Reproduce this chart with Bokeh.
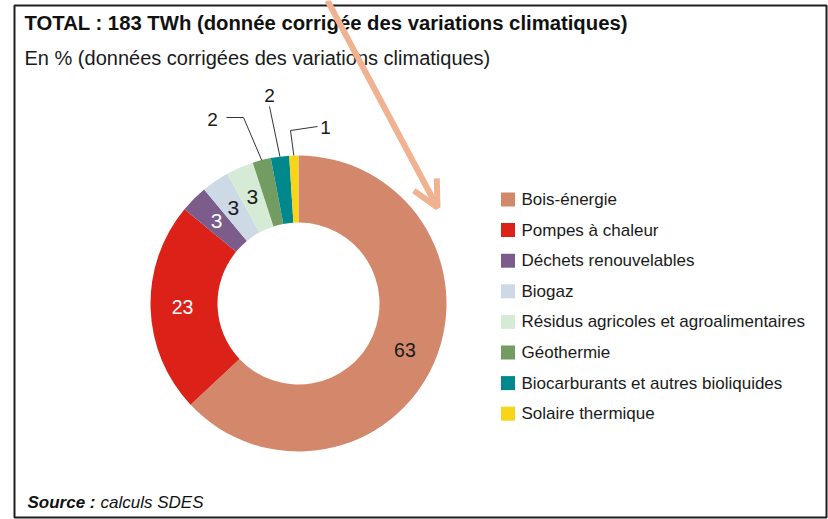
import math
from bokeh.plotting import figure
from bokeh.models import Range1d, ColumnDataSource, Arrow, OpenHead
from bokeh.core.properties import value
from bokeh.embed import file_html
from bokeh.resources import INLINE

# ---------------- data ----------------
categories = ["Bois-énergie", "Pompes à chaleur", "Déchets renouvelables", "Biogaz",
              "Résidus agricoles et agroalimentaires", "Géothermie",
              "Biocarburants et autres bioliquides", "Solaire thermique"]
shares = [63, 23, 3, 3, 3, 2, 2, 1]
colors = ["#D4886B", "#DC2119", "#7B5C8B", "#CDD9E4", "#D6EBD6", "#739C63", "#00888C", "#F8D518"]
title_text = "TOTAL : 183 TWh (donnée corrigée des variations climatiques)"
subtitle_text = "En % (données corrigées des variations climatiques)"
source_bold = "Source :"
source_rest = "calculs SDES"

FONT = "Liberation Sans"
W, H = 828, 519

def Y(py):
    # page pixel y (downwards) -> data y (upwards)
    return H - py

p = figure(width=W, height=H, output_backend="svg", toolbar_location=None,
           x_range=Range1d(0, W), y_range=Range1d(0, H),
           x_axis_location=None, y_axis_location=None, min_border=0,
           outline_line_color=None, background_fill_color="white",
           border_fill_color="white")
p.xgrid.visible = False
p.ygrid.visible = False

# frame
p.quad(left=[14], right=[826], top=[Y(5)], bottom=[Y(517)], fill_color=None,
       line_color="#1e1e1e", line_width=2)

# ---------------- donut ----------------
CX, CY = 298, Y(303)
R_IN, R_OUT = 81, 148
total = float(sum(shares))
cum = [0.0]
for s in shares:
    cum.append(cum[-1] + s)
start = [math.pi / 2 - 2 * math.pi * cum[i + 1] / total for i in range(len(shares))]
end = [math.pi / 2 - 2 * math.pi * cum[i] / total for i in range(len(shares))]
mid = [(a + b) / 2 for a, b in zip(start, end)]

src = ColumnDataSource(dict(x=[CX] * len(shares), y=[CY] * len(shares), start=start,
                            end=end, color=colors, cat=categories))
p.annular_wedge(x="x", y="y", inner_radius=R_IN, outer_radius=R_OUT,
                inner_radius_units="screen", outer_radius_units="screen",
                start_angle="start", end_angle="end", direction="anticlock",
                fill_color="color", line_color=None, source=src)

# inside labels
inside = [0, 1, 2, 3, 4]
in_colors = {0: "#1a1a1a", 1: "white", 2: "white", 3: "#1a1a1a", 4: "#1a1a1a"}
in_sizes = {0: "19.5px", 1: "19.5px", 2: "21px", 3: "21px", 4: "21px"}
R_LAB = 116
for i in inside:
    p.text(x=[CX + R_LAB * math.cos(mid[i])], y=[CY + R_LAB * math.sin(mid[i])],
           text=[str(shares[i])], text_align="center", text_baseline="middle",
           text_font=value(FONT), text_font_size=in_sizes[i], text_color=in_colors[i])

# outside labels with leader lines (label position in page pixels, elbow points)
outside = {
    5: dict(lab=(212, 119), path=[(226, 117), (243, 117)]),
    6: dict(lab=(269, 95), path=[(269, 106)]),
    7: dict(lab=(325, 127), path=[(317, 126), (290, 130)]),
}
for i, d in outside.items():
    ex = CX + R_OUT * math.cos(mid[i])
    ey = CY + R_OUT * math.sin(mid[i])
    xs = [pt[0] for pt in d["path"]] + [ex]
    ys = [Y(pt[1]) for pt in d["path"]] + [ey]
    p.line(x=xs, y=ys, line_color="#333333", line_width=1)
    p.text(x=[d["lab"][0]], y=[Y(d["lab"][1])], text=[str(shares[i])],
           text_align="center", text_baseline="middle", text_font=value(FONT),
           text_font_size="19px", text_color="#1a1a1a")

# ---------------- legend ----------------
LEG_Y0, LEG_DY = 199, 30.6
for i, (c, col) in enumerate(zip(categories, colors)):
    py = LEG_Y0 + LEG_DY * i
    p.rect(x=[507.5], y=[Y(py)], width=14, height=14, fill_color=col, line_color=None)
    p.text(x=[521], y=[Y(py)], text=[c], text_align="left", text_baseline="middle",
           text_font=value(FONT), text_font_size="17px", text_color="#1a1a1a")

# ---------------- titles ----------------
p.text(x=[24], y=[Y(22)], text=[title_text], text_align="left", text_baseline="middle",
       text_font=value(FONT), text_font_size="20.3px", text_font_style="bold",
       text_color="#111111")
p.text(x=[24], y=[Y(57)], text=[subtitle_text], text_align="left", text_baseline="middle",
       text_font=value(FONT), text_font_size="20px", text_color="#1a1a1a")
p.text(x=[27], y=[Y(502)], text=[source_bold], text_align="left", text_baseline="middle",
       text_font=value(FONT), text_font_size="17px", text_font_style="bold italic",
       text_color="#111111")
p.text(x=[100], y=[Y(502)], text=[source_rest], text_align="left", text_baseline="middle",
       text_font=value(FONT), text_font_size="17px", text_font_style="italic",
       text_color="#111111")

# ---------------- overlay arrow ----------------
ARROW_COL = "#F1B291"
p.add_layout(Arrow(end=OpenHead(size=26, line_color=ARROW_COL, line_width=6),
                   x_start=327, y_start=Y(0), x_end=437, y_end=Y(207),
                   line_color=ARROW_COL, line_width=6))

open("out.html", "w").write(file_html(p, INLINE))
